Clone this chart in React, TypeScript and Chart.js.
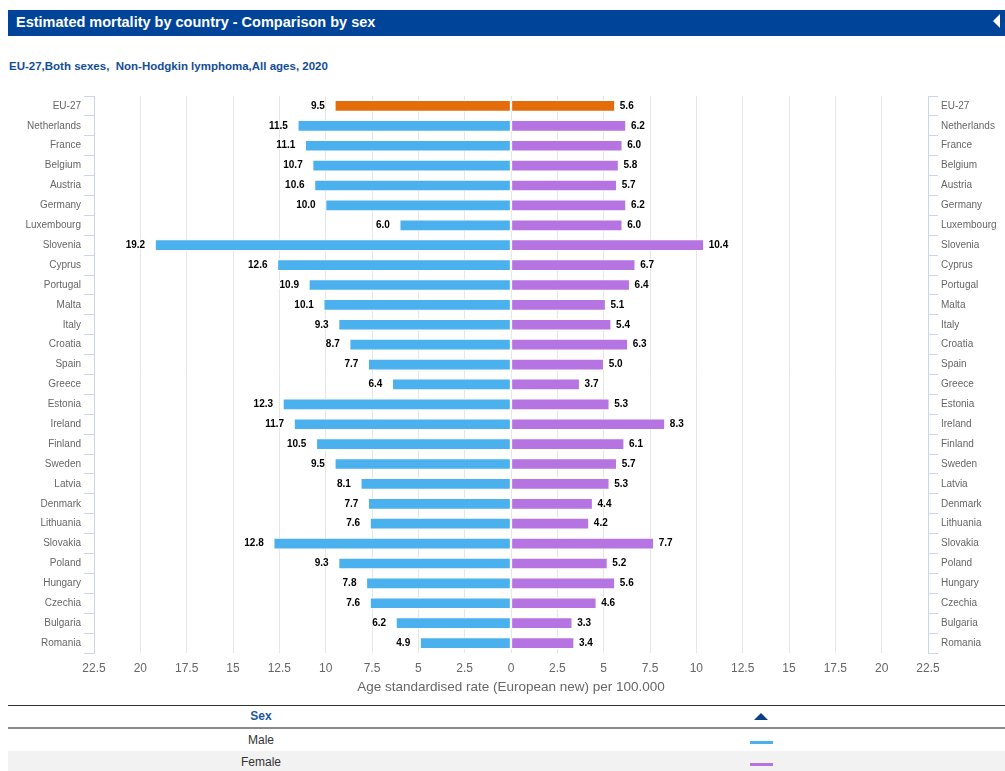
import React, { useEffect, useRef } from 'react';
import { Chart, registerables } from 'chart.js';

Chart.register(...registerables);

const countries = [
  'EU-27', 'Netherlands', 'France', 'Belgium', 'Austria', 'Germany', 'Luxembourg',
  'Slovenia', 'Cyprus', 'Portugal', 'Malta', 'Italy', 'Croatia', 'Spain', 'Greece',
  'Estonia', 'Ireland', 'Finland', 'Sweden', 'Latvia', 'Denmark', 'Lithuania',
  'Slovakia', 'Poland', 'Hungary', 'Czechia', 'Bulgaria', 'Romania',
];

const maleRates = [
  9.5, 11.5, 11.1, 10.7, 10.6, 10.0, 6.0,
  19.2, 12.6, 10.9, 10.1, 9.3, 8.7, 7.7, 6.4,
  12.3, 11.7, 10.5, 9.5, 8.1, 7.7, 7.6,
  12.8, 9.3, 7.8, 7.6, 6.2, 4.9,
];

const femaleRates = [
  5.6, 6.2, 6.0, 5.8, 5.7, 6.2, 6.0,
  10.4, 6.7, 6.4, 5.1, 5.4, 6.3, 5.0, 3.7,
  5.3, 8.3, 6.1, 5.7, 5.3, 4.4, 4.2,
  7.7, 5.2, 5.6, 4.6, 3.3, 3.4,
];

const seriesNames = ['Male', 'Female'];
const title = 'Estimated mortality by country - Comparison by sex';
const subtitle = 'EU-27,Both sexes,  Non-Hodgkin lymphoma,All ages, 2020';
const axisTitle = 'Age standardised rate (European new) per 100.000';

const MALE = '#4ab1ee';
const FEMALE = '#b673e2';
const EU = '#e46c0a';
const FONT = '"Liberation Sans", Arial, Helvetica, sans-serif';

const valueLabels = {
  id: 'valueLabels',
  afterDatasetsDraw(chart: any) {
    const ctx = chart.ctx;
    ctx.save();
    ctx.font = `bold 10px ${FONT}`;
    ctx.textBaseline = 'middle';
    ctx.lineJoin = 'round';
    chart.data.datasets.forEach((ds: any, di: number) => {
      const meta = chart.getDatasetMeta(di);
      meta.data.forEach((bar: any, i: number) => {
        const v = ds.data[i] as number;
        const txt = Math.abs(v).toFixed(1);
        let x: number;
        if (v < 0) {
          ctx.textAlign = 'right';
          x = bar.x - 10;
        } else {
          ctx.textAlign = 'left';
          x = bar.x + 5;
        }
        ctx.strokeStyle = '#ffffff';
        ctx.lineWidth = 2;
        ctx.strokeText(txt, x, bar.y);
        ctx.fillStyle = '#000000';
        ctx.fillText(txt, x, bar.y);
      });
    });
    ctx.restore();
  },
};

function ChartBox() {
  const ref = useRef<HTMLCanvasElement | null>(null);
  useEffect(() => {
    if (!ref.current) return;
    const tickFont = { family: FONT, size: 10 };
    const chart = new Chart(ref.current, {
      type: 'bar',
      data: {
        labels: countries,
        datasets: [
          {
            label: seriesNames[0],
            data: maleRates.map((v) => -v),
            backgroundColor: countries.map((_, i) => (i === 0 ? EU : MALE)),
            borderColor: '#ffffff',
            borderWidth: 1,
            borderSkipped: false,
            barThickness: 11,
            yAxisID: 'y',
          },
          {
            label: seriesNames[1],
            data: femaleRates,
            backgroundColor: countries.map((_, i) => (i === 0 ? EU : FEMALE)),
            borderColor: '#ffffff',
            borderWidth: 1,
            borderSkipped: false,
            barThickness: 11,
            yAxisID: 'y',
          },
        ],
      },
      options: {
        indexAxis: 'y',
        responsive: false,
        maintainAspectRatio: false,
        animation: false,
        layout: { padding: { top: 10, left: 0, right: 0, bottom: 0 } },
        plugins: {
          legend: { display: false },
          tooltip: { enabled: false },
          title: { display: false },
        },
        scales: {
          x: {
            type: 'linear',
            stacked: true,
            min: -22.5,
            max: 22.5,
            ticks: {
              stepSize: 2.5,
              color: '#666666',
              font: { family: FONT, size: 12 },
              padding: 8,
              maxRotation: 0,
              autoSkip: false,
              callback: (v: any) => String(Math.round(Math.abs(Number(v)) * 10) / 10),
            },
            grid: { color: '#e6e6e6', lineWidth: 1, drawTicks: false },
            border: { display: false },
            title: {
              display: true,
              text: axisTitle,
              color: '#666666',
              font: { family: FONT, size: 13.5 },
              padding: { top: 0, bottom: 6 },
            },
            afterFit: (scale: any) => {
              scale.height = 48;
            },
          },
          y: {
            type: 'category',
            stacked: true,
            position: 'left',
            offset: true,
            ticks: { color: '#666666', font: tickFont, padding: 3, autoSkip: false },
            grid: { drawOnChartArea: false, offset: true, tickLength: 10, color: '#ccd6eb' },
            border: { color: '#ccd6eb' },
            afterFit: (scale: any) => {
              scale.width = 94;
            },
          },
          y2: {
            type: 'category',
            position: 'right',
            labels: countries,
            offset: true,
            ticks: { color: '#666666', font: tickFont, padding: 3, autoSkip: false },
            grid: { drawOnChartArea: false, offset: true, tickLength: 10, color: '#ccd6eb' },
            border: { color: '#ccd6eb' },
            afterFit: (scale: any) => {
              scale.width = 77;
            },
          },
        },
      } as any,
      plugins: [valueLabels],
    });
    return () => chart.destroy();
  }, []);
  return (
    <canvas
      ref={ref}
      width={1005}
      height={615}
      style={{ position: 'absolute', left: 0, top: 86, width: 1005, height: 615 }}
    />
  );
}

export default function App() {
  const cell: React.CSSProperties = {
    position: 'absolute',
    textAlign: 'center',
    fontSize: 12,
    color: '#333333',
  };
  return (
    <div
      style={{
        position: 'fixed',
        left: 0,
        top: 0,
        width: 1005,
        height: 771,
        overflow: 'hidden',
        background: '#ffffff',
        fontFamily: FONT,
      }}
    >
      <div
        style={{
          position: 'absolute',
          left: 8,
          top: 10,
          width: 997,
          height: 26,
          background: '#00449a',
        }}
      >
        <div
          style={{
            position: 'absolute',
            left: 8,
            top: 4,
            color: '#ffffff',
            fontWeight: 'bold',
            fontSize: 14.5,
            lineHeight: '17px',
            whiteSpace: 'nowrap',
          }}
        >
          {title}
        </div>
        <div
          style={{
            position: 'absolute',
            left: 985,
            top: 4,
            width: 0,
            height: 0,
            borderTop: '7px solid transparent',
            borderBottom: '7px solid transparent',
            borderRight: '7px solid #ffffff',
          }}
        />
      </div>
      <div
        style={{
          position: 'absolute',
          left: 9,
          top: 59,
          color: '#134d98',
          fontWeight: 'bold',
          fontSize: 11.5,
          lineHeight: '14px',
          whiteSpace: 'pre',
        }}
      >
        {subtitle}
      </div>

      <ChartBox />

      {/* legend table */}
      <div style={{ position: 'absolute', left: 8, top: 705, width: 997, height: 1, background: '#333333' }} />
      <div style={{ ...cell, left: 8, width: 506, top: 709, fontWeight: 'bold', color: '#1a56a3', lineHeight: '15px' }}>
        Sex
      </div>
      <div
        style={{
          position: 'absolute',
          left: 754,
          top: 713,
          width: 0,
          height: 0,
          borderLeft: '7.5px solid transparent',
          borderRight: '7.5px solid transparent',
          borderBottom: '7px solid #0d3f87',
        }}
      />
      <div style={{ position: 'absolute', left: 8, top: 727, width: 997, height: 2, background: '#8a8a8a' }} />
      <div style={{ position: 'absolute', left: 8, top: 751, width: 997, height: 22, background: '#f2f2f2' }} />
      <div style={{ ...cell, left: 8, width: 506, top: 733, lineHeight: '15px' }}>{seriesNames[0]}</div>
      <div style={{ ...cell, left: 8, width: 506, top: 755, lineHeight: '15px' }}>{seriesNames[1]}</div>
      <div style={{ position: 'absolute', left: 750, top: 741, width: 23, height: 3, background: MALE }} />
      <div style={{ position: 'absolute', left: 750, top: 763, width: 23, height: 3, background: FEMALE }} />
    </div>
  );
}
